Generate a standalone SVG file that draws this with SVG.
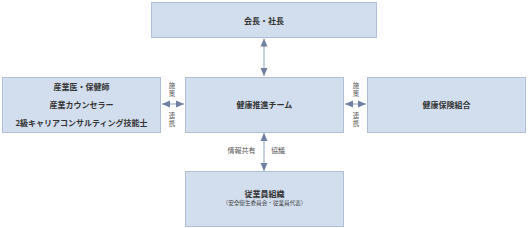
<svg xmlns="http://www.w3.org/2000/svg" width="528" height="228" viewBox="0 0 528 228">
<style>
.box{fill:#d2deee;stroke:#aebfd6;stroke-width:1}
.t{font-family:"Noto Sans CJK JP","Noto Sans",sans-serif;font-weight:bold;font-size:8px;fill:#333;text-anchor:middle;dominant-baseline:central}
.s{font-family:"Noto Sans CJK JP","Noto Sans",sans-serif;font-size:5.6px;fill:#444;text-anchor:middle;dominant-baseline:central}
.l{font-family:"Noto Sans CJK JP","Noto Sans",sans-serif;font-size:7px;fill:#555;text-anchor:middle;dominant-baseline:central}
.v{font-family:"Noto Sans CJK JP","Noto Sans",sans-serif;font-size:6.4px;fill:#555;text-anchor:middle;dominant-baseline:central}
.c{stroke:#b9c5d6;stroke-width:1.6;fill:none;marker-start:url(#ah);marker-end:url(#ah)}
</style>
<defs>
<marker id="ah" markerUnits="userSpaceOnUse" markerWidth="8" markerHeight="8" viewBox="0 0 8 8" refX="8" refY="4" orient="auto-start-reverse">
<path d="M0,0.5 L8,4 L0,7.5 Z" fill="#6f81a1"/>
</marker>
</defs>
<rect width="528" height="228" fill="#fff"/>
<g id="connectors">
<line class="c" x1="264" y1="38.5" x2="264" y2="76"/>
<line class="c" x1="162" y1="104" x2="184" y2="104"/>
<line class="c" x1="345" y1="104" x2="366" y2="104"/>
<line class="c" x1="264" y1="133" x2="264" y2="171"/>
<text class="v" x="172" y="85.5">施</text>
<text class="v" x="172" y="93">策</text>
<text class="v" x="172" y="115.5">連</text>
<text class="v" x="172" y="123">携</text>
<text class="v" x="356" y="85.5">施</text>
<text class="v" x="356" y="93">策</text>
<text class="v" x="356" y="115.5">連</text>
<text class="v" x="356" y="123">携</text>
<text class="l" x="241.5" y="150">情報共有</text>
<text class="l" x="278" y="150">協議</text>
</g>
<g id="president">
<rect class="box" x="151.5" y="2.5" width="225" height="35"/>
<text class="t" x="264" y="20">会長・社長</text>
</g>
<g id="industrial">
<rect class="box" x="2.5" y="77.5" width="158" height="55"/>
<text class="t" x="81.5" y="86">産業医・保健師</text>
<text class="t" x="81.5" y="104">産業カウンセラー</text>
<text class="t" x="81.5" y="122">2級キャリアコンサルティング技能士</text>
</g>
<g id="team">
<rect class="box" x="185.5" y="77.5" width="158" height="55"/>
<text class="t" x="264.5" y="104">健康推進チーム</text>
</g>
<g id="insurance">
<rect class="box" x="367.5" y="77.5" width="158" height="55"/>
<text class="t" x="446.5" y="104">健康保険組合</text>
</g>
<g id="employees">
<rect class="box" x="185.5" y="171.5" width="158" height="55"/>
<text class="t" x="264.5" y="193">従業員組織</text>
<text class="s" x="264.5" y="203">（安全衛生委員会・従業員代表）</text>
</g>
</svg>
